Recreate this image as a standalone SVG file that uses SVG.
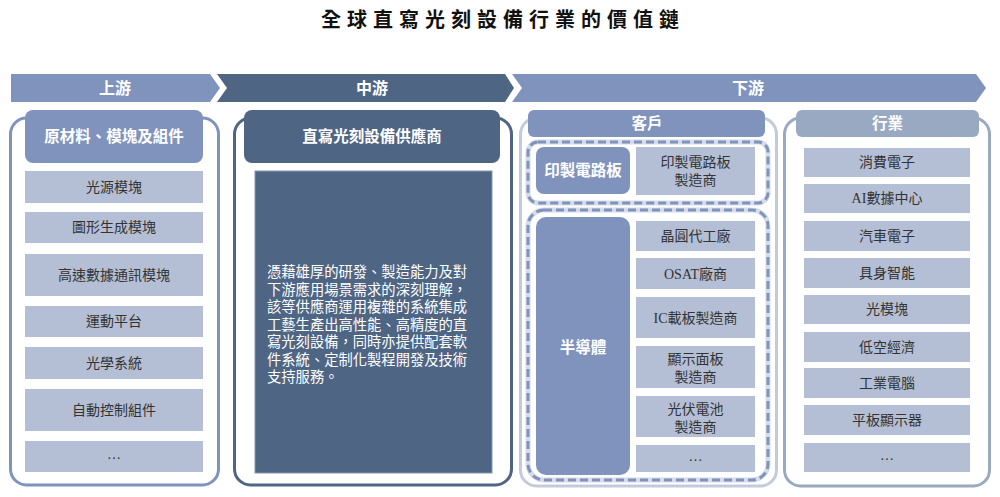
<svg xmlns="http://www.w3.org/2000/svg" width="1000" height="497" viewBox="0 0 1000 497">
<defs>
<style>
text{font-family:"Liberation Serif","Noto Sans CJK TC","Noto Sans CJK SC",serif;}
.title{font-size:20px;font-weight:bold;fill:#111;letter-spacing:6px;}
.band{font-size:16px;font-weight:bold;fill:#fff;}
.hdr{font-size:15.5px;font-weight:bold;fill:#fff;}
.item{font-size:14px;fill:#333;}
.desc{font-size:14.3px;fill:#fff;}
.it{fill:#b4bfd5;}
.lb{fill:#7f93bd;}
.dk{fill:#4f6584;}
.gy{fill:#9aa9c2;}
.halo{fill:none;stroke:#d6dce8;stroke-width:5;}
.dash{fill:none;stroke:#7f93bd;stroke-width:3;stroke-dasharray:8 4;}
</style>
</defs>
<rect width="1000" height="497" fill="#fff"/>
<text class="title" x="503" y="27" text-anchor="middle">全球直寫光刻設備行業的價值鏈</text>

<g id="banner">
<path class="lb" d="M11,74 H210 L220,88 L210,102 H11 Z"/>
<path class="dk" d="M217,74 H505 L514,88 L505,102 H217 L227,88 Z"/>
<path class="lb" d="M512,74 H976 L986,88 L976,102 H512 L522,88 Z"/>
<text class="band" x="115" y="94" text-anchor="middle">上游</text>
<text class="band" x="372" y="94" text-anchor="middle">中游</text>
<text class="band" x="748" y="94" text-anchor="middle">下游</text>
</g>

<g id="connectors"></g>

<g id="upstream">
<rect x="10.5" y="118" width="208" height="367" rx="16" fill="none" stroke="#7f93bd" stroke-width="3"/>
<rect class="lb" x="25" y="110" width="178" height="53" rx="8"/>
<text class="hdr" x="114" y="142" text-anchor="middle">原材料、模塊及組件</text>
<rect class="it" x="25" y="171" width="178" height="32"/>
<text class="item" x="114" y="192" text-anchor="middle">光源模塊</text>
<rect class="it" x="25" y="212" width="178" height="31"/>
<text class="item" x="114" y="232" text-anchor="middle">圖形生成模塊</text>
<rect class="it" x="25" y="254" width="178" height="42"/>
<text class="item" x="114" y="280" text-anchor="middle">高速數據通訊模塊</text>
<rect class="it" x="25" y="306" width="178" height="31"/>
<text class="item" x="114" y="326" text-anchor="middle">運動平台</text>
<rect class="it" x="25" y="347" width="178" height="32"/>
<text class="item" x="114" y="368" text-anchor="middle">光學系統</text>
<rect class="it" x="25" y="389" width="178" height="42"/>
<text class="item" x="114" y="415" text-anchor="middle">自動控制組件</text>
<rect class="it" x="25" y="441" width="178" height="31"/>
<text class="item" x="114" y="459" text-anchor="middle">…</text>
</g>

<g id="midstream">
<rect x="234.5" y="118" width="277" height="367" rx="16" fill="none" stroke="#4f6584" stroke-width="3"/>
<rect class="dk" x="244" y="110" width="256" height="53" rx="8"/>
<text class="hdr" x="372" y="142" text-anchor="middle">直寫光刻設備供應商</text>
<rect class="dk" x="255" y="171" width="237" height="302" stroke="#8797b0" stroke-width="1"/>
<g class="desc">
<text x="267" y="277">憑藉雄厚的研發、製造能力及對</text>
<text x="267" y="294.5">下游應用場景需求的深刻理解，</text>
<text x="267" y="312">該等供應商運用複雜的系統集成</text>
<text x="267" y="329.5">工藝生產出高性能、高精度的直</text>
<text x="267" y="347">寫光刻設備，同時亦提供配套軟</text>
<text x="267" y="364.5">件系統、定制化製程開發及技術</text>
<text x="267" y="382">支持服務。</text>
</g>
</g>

<g id="customers">
<rect x="520.5" y="118" width="256" height="368" rx="16" fill="none" stroke="#c3cbdb" stroke-width="3"/>
<rect class="lb" x="528" y="110" width="237" height="27" rx="6"/>
<text class="hdr" x="647" y="129" text-anchor="middle">客戶</text>
</g>

<g id="pcb">
<rect class="halo" x="528" y="142" width="240" height="61" rx="10"/>
<rect class="dash" x="528" y="142" width="240" height="61" rx="10"/>
<rect class="lb" x="536" y="147" width="94" height="47" rx="8"/>
<text class="hdr" x="583" y="176" text-anchor="middle">印製電路板</text>
<rect class="it" x="636" y="147" width="119" height="48"/>
<text class="item" x="695.5" y="167" text-anchor="middle">印製電路板</text>
<text class="item" x="695.5" y="185" text-anchor="middle">製造商</text>
</g>

<g id="semiconductor">
<rect class="halo" x="528" y="210" width="240" height="270" rx="16"/>
<rect class="dash" x="528" y="210" width="240" height="270" rx="16"/>
<rect class="lb" x="536" y="217" width="94" height="258" rx="10"/>
<text class="hdr" x="583" y="353" text-anchor="middle">半導體</text>
<rect class="it" x="636" y="221" width="119" height="30"/>
<text class="item" x="695.5" y="241" text-anchor="middle">晶圓代工廠</text>
<rect class="it" x="636" y="258" width="119" height="31"/>
<text class="item" x="695.5" y="279" text-anchor="middle">OSAT廠商</text>
<rect class="it" x="636" y="297" width="119" height="41"/>
<text class="item" x="695.5" y="323" text-anchor="middle">IC載板製造商</text>
<rect class="it" x="636" y="346" width="119" height="42"/>
<text class="item" x="695.5" y="364" text-anchor="middle">顯示面板</text>
<text class="item" x="695.5" y="382" text-anchor="middle">製造商</text>
<rect class="it" x="636" y="396" width="119" height="41"/>
<text class="item" x="695.5" y="414" text-anchor="middle">光伏電池</text>
<text class="item" x="695.5" y="432" text-anchor="middle">製造商</text>
<rect class="it" x="636" y="445" width="119" height="27"/>
<text class="item" x="695.5" y="461" text-anchor="middle">…</text>
</g>

<g id="industries">
<rect x="784.5" y="118" width="205" height="368" rx="16" fill="none" stroke="#9aa9c2" stroke-width="3"/>
<rect class="gy" x="796" y="110" width="183" height="27" rx="6"/>
<text class="hdr" x="887.5" y="129" text-anchor="middle">行業</text>
<rect class="it" x="804" y="148" width="166" height="29"/>
<text class="item" x="887" y="167" text-anchor="middle">消費電子</text>
<rect class="it" x="804" y="184" width="166" height="29"/>
<text class="item" x="887" y="203" text-anchor="middle">AI數據中心</text>
<rect class="it" x="804" y="221" width="166" height="30"/>
<text class="item" x="887" y="241" text-anchor="middle">汽車電子</text>
<rect class="it" x="804" y="258" width="166" height="30"/>
<text class="item" x="887" y="278" text-anchor="middle">具身智能</text>
<rect class="it" x="804" y="295" width="166" height="29"/>
<text class="item" x="887" y="314" text-anchor="middle">光模塊</text>
<rect class="it" x="804" y="332" width="166" height="30"/>
<text class="item" x="887" y="352" text-anchor="middle">低空經濟</text>
<rect class="it" x="804" y="368" width="166" height="30"/>
<text class="item" x="887" y="388" text-anchor="middle">工業電腦</text>
<rect class="it" x="804" y="405" width="166" height="30"/>
<text class="item" x="887" y="425" text-anchor="middle">平板顯示器</text>
<rect class="it" x="804" y="443" width="166" height="29"/>
<text class="item" x="887" y="460" text-anchor="middle">…</text>
</g>
</svg>
